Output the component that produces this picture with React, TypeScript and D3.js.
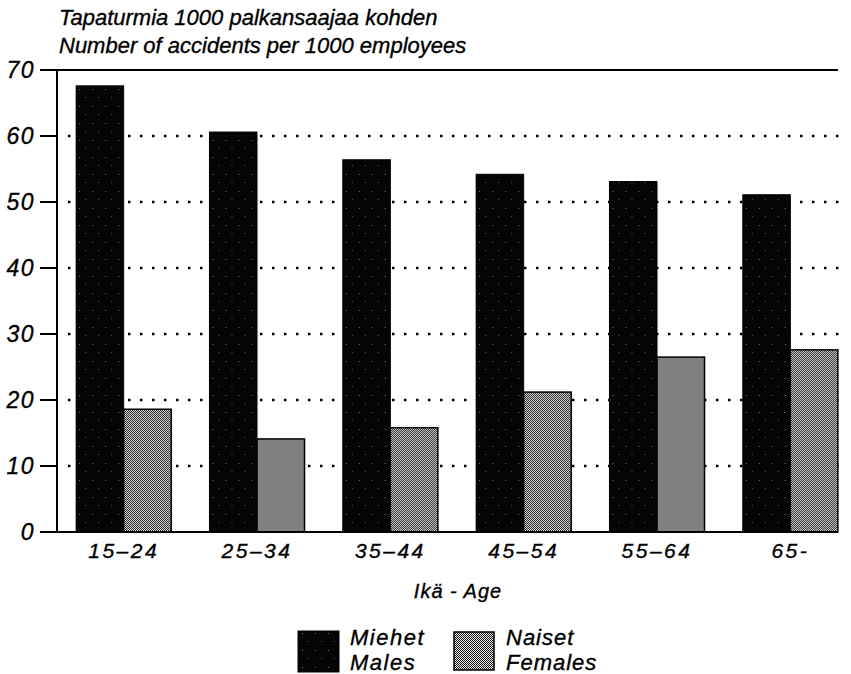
import React from "react";
import * as d3 from "d3";

const ageGroups = ["15\u201324", "25\u201334", "35\u201344", "45\u201354", "55\u201364", "65-"];
const males = [67.6, 60.6, 56.4, 54.2, 53.1, 51.1];
const females = [18.6, 14.1, 15.8, 21.2, 26.5, 27.6];
const yTicks = [0, 10, 20, 30, 40, 50, 60, 70];
const seriesNames = ["Miehet", "Naiset"];
const seriesNamesEn = ["Males", "Females"];

const W = 851;
const H = 674;
const FONT = "'Liberation Sans', Arial, sans-serif";

export default function App() {
  const left = 57;
  const top = 70;
  const bottom = 532;

  const x = d3.scaleBand().domain(ageGroups).range([left, 857]).paddingInner(0.287).paddingOuter(0.1435);
  const sub = d3.scaleBand().domain(["m", "f"]).range([0, x.bandwidth()]);
  const y = d3.scaleLinear().domain([0, 70]).range([bottom, top]);

  const txt = { stroke: "#000", strokeWidth: 0.35 };

  return (
    <svg width={W} height={H} style={{ position: "absolute", left: 0, top: 0, background: "#fff" }}
      fontFamily={FONT} fontStyle="italic">
      <defs>
        <pattern id="malePat" width="13" height="17" patternUnits="userSpaceOnUse">
          <rect width="13" height="17" fill="#050505" />
          <rect x="3" y="4" width="1" height="1" fill="#fff" opacity="0.45" />
          <rect x="9" y="12" width="1" height="1" fill="#fff" opacity="0.35" />
        </pattern>
        <pattern id="femPat" width="2" height="2" patternUnits="userSpaceOnUse">
          <rect width="2" height="2" fill="#eee" />
          <rect width="1" height="1" fill="#111" />
          <rect x="1" y="1" width="1" height="1" fill="#111" />
        </pattern>
      </defs>

      {/* title */}
      <text x={59} y={25} fontSize={22} {...txt}>Tapaturmia 1000 palkansaajaa kohden</text>
      <text x={59} y={53} fontSize={22} {...txt}>Number of accidents per 1000 employees</text>

      {/* gridlines */}
      {yTicks.filter(t => t > 0 && t < 70).map(t => (
        <line key={"g" + t} x1={left + 11} x2={848} y1={y(t)} y2={y(t)}
          stroke="#000" strokeWidth={2.5} strokeDasharray="2.5 9.5" />
      ))}

      {/* bars */}
      {ageGroups.map((g, i) => (
        <g key={g} transform={`translate(${x(g)},0)`}>
          <rect x={sub("m")} y={y(males[i])} width={sub.bandwidth()} height={y(0) - y(males[i])}
            fill="url(#malePat)" stroke="#000" strokeWidth={1} />
          <rect x={sub("f")} y={y(females[i])} width={sub.bandwidth()} height={y(0) - y(females[i])}
            fill="url(#femPat)" stroke="#000" strokeWidth={1.5} />
        </g>
      ))}

      {/* axes */}
      <line x1={left} x2={left} y1={top} y2={bottom} stroke="#000" strokeWidth={2} />
      <line x1={40} x2={838} y1={top} y2={top} stroke="#000" strokeWidth={2} />
      <line x1={40} x2={838} y1={bottom} y2={bottom} stroke="#000" strokeWidth={2} />
      {yTicks.map(t => (
        <g key={"t" + t}>
          <line x1={40} x2={left} y1={y(t)} y2={y(t)} stroke="#000" strokeWidth={2} />
          <text x={35} y={y(t)} dy="0.36em" textAnchor="end" fontSize={23} letterSpacing={1.5} {...txt}>{t}</text>
        </g>
      ))}
      {ageGroups.map(g => (
        <text key={"x" + g} x={(x(g) as number) + x.bandwidth() / 2} y={558} textAnchor="middle"
          fontSize={21} letterSpacing={2.5} {...txt}>{g}</text>
      ))}
      <text x={458} y={598} textAnchor="middle" fontSize={20} letterSpacing={1} {...txt}>Ikä - Age</text>

      {/* legend */}
      <rect x={298} y={631} width={41} height={41} fill="url(#malePat)" stroke="#000" />
      <text x={350} y={645} fontSize={22} letterSpacing={1.5} {...txt}>{seriesNames[0]}</text>
      <text x={350} y={670} fontSize={22} letterSpacing={1.5} {...txt}>{seriesNamesEn[0]}</text>
      <rect x={454} y={632} width={40} height={38} fill="url(#femPat)" stroke="#000" strokeWidth={1.5} />
      <text x={506} y={645} fontSize={22} letterSpacing={1} {...txt}>{seriesNames[1]}</text>
      <text x={506} y={670} fontSize={22} letterSpacing={1} {...txt}>{seriesNamesEn[1]}</text>
    </svg>
  );
}
